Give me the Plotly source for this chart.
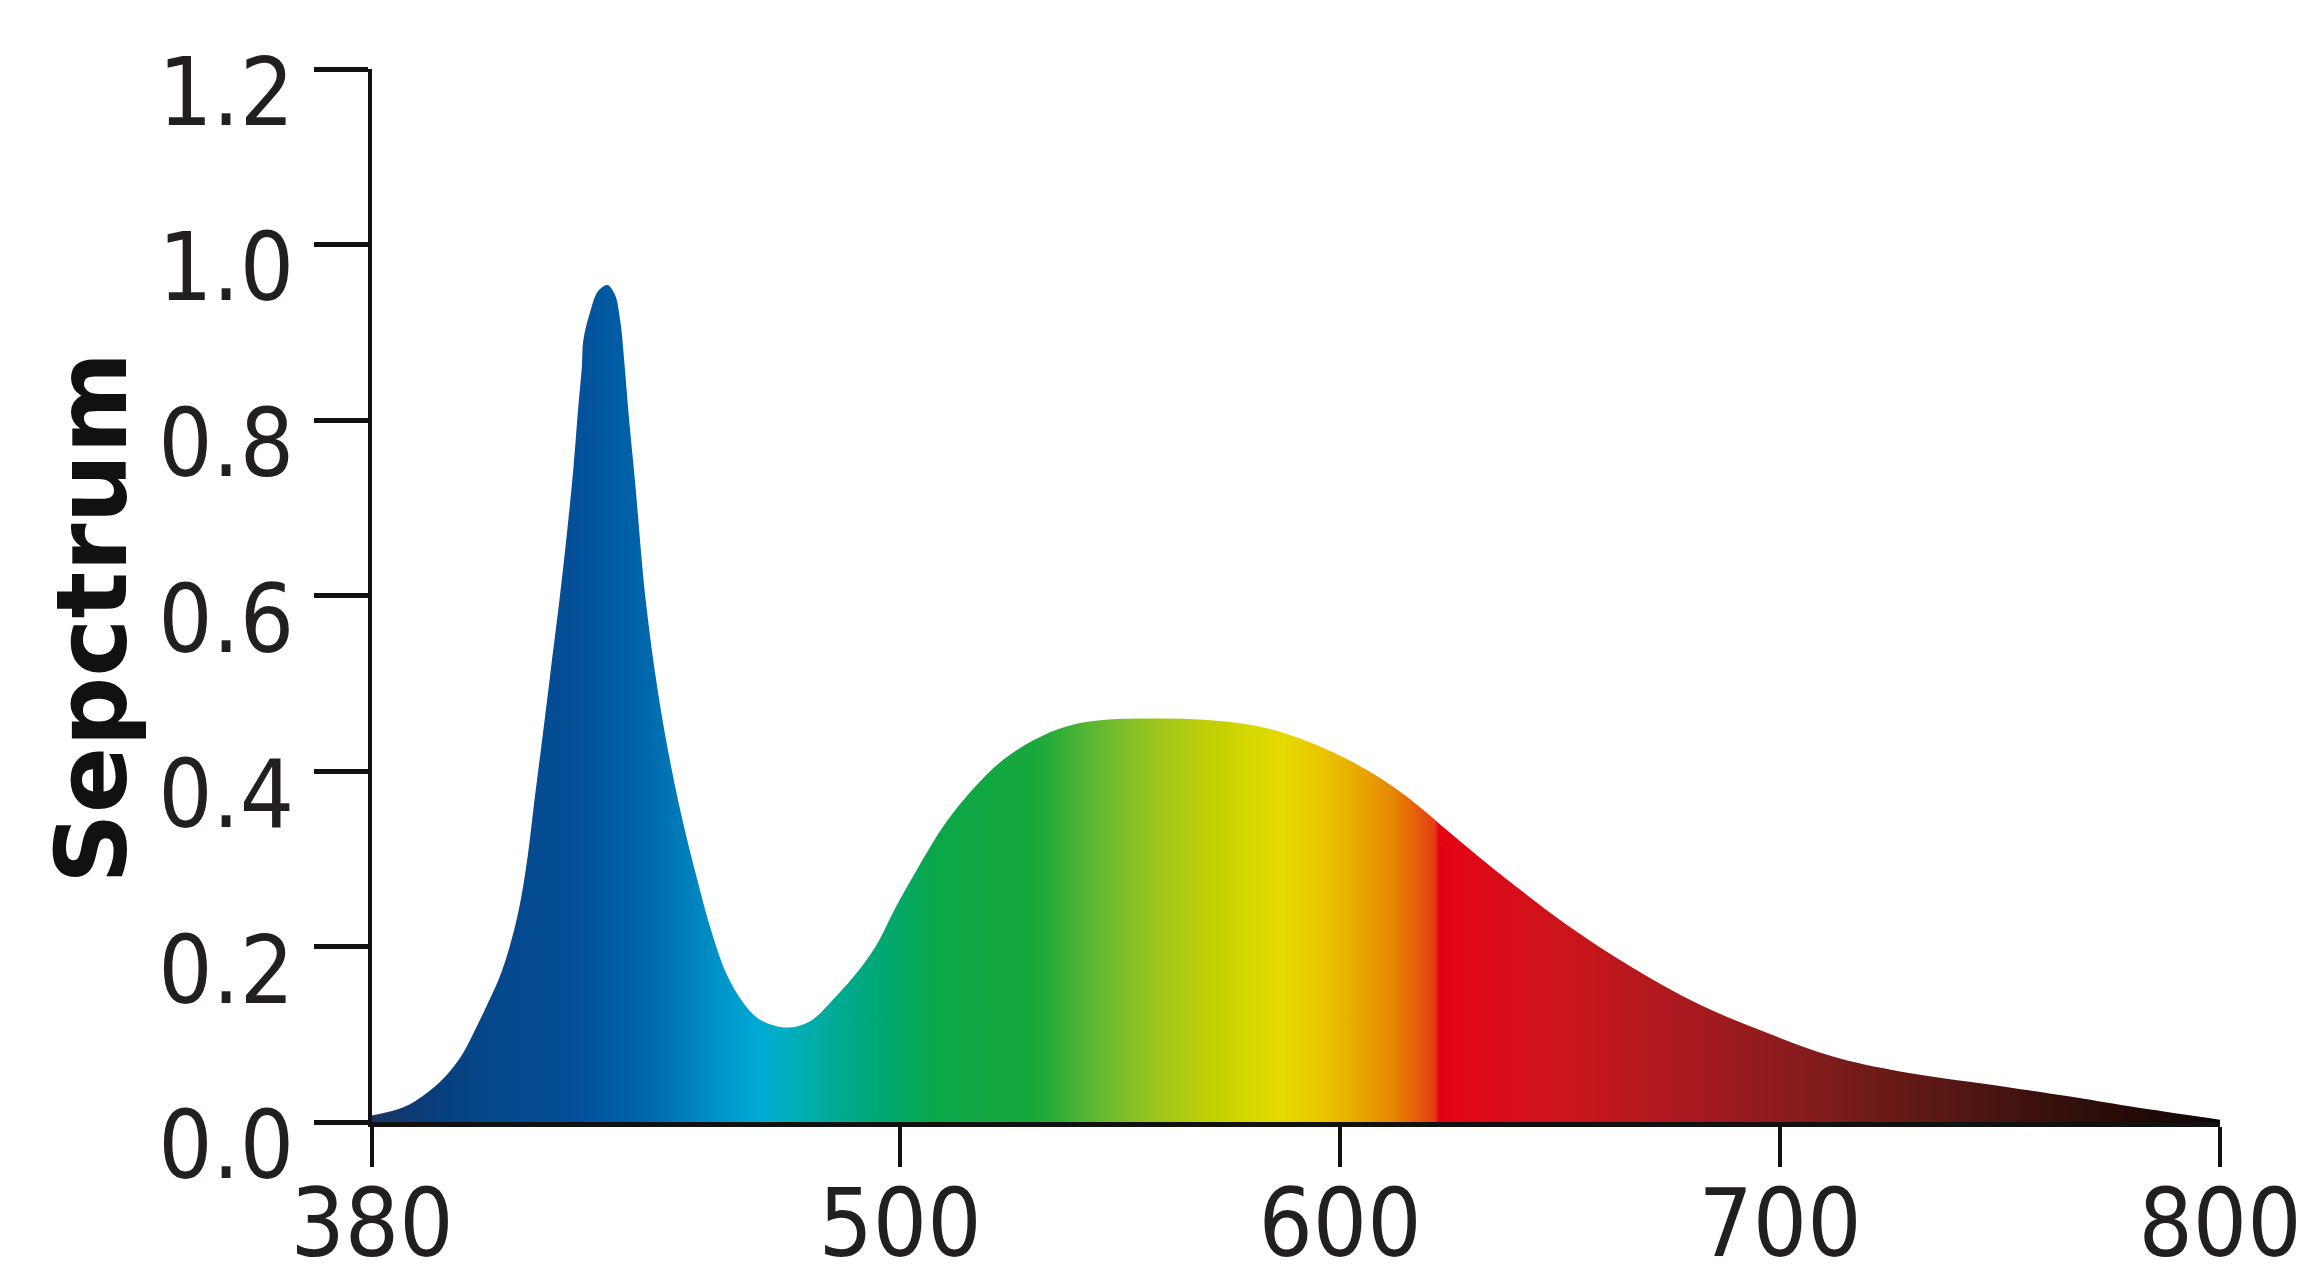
import plotly.graph_objects as go

# spectrum (nm, relative intensity)
wavelength = [380.0, 387.5, 395.2, 399.8, 402.7, 405.7, 408.8, 411.1, 413.4, 415.3,
              417.0, 418.9, 420.5, 422.6, 424.3, 425.8, 426.9, 427.7, 428.0, 429.5,
              431.4, 433.5, 435.2, 436.4, 437.3, 438.3, 439.8, 442.2, 445.0, 448.0,
              451.0, 454.0, 457.0, 460.5, 464.3, 468.2, 474.3, 479.5, 484.8, 490.9,
              495.0, 498.5, 503.5, 510.2, 517.0, 522.7, 530.2, 537.8, 545.5, 556.8,
              568.2, 579.5, 587.1, 594.7, 602.3, 609.8, 617.5, 625.0, 636.4, 651.6,
              666.6, 681.8, 697.0, 712.0, 727.3, 750.7, 765.2, 779.8, 800.0]
intensity = [0.008, 0.018, 0.045, 0.072, 0.098, 0.129, 0.163, 0.197, 0.243, 0.300,
             0.370, 0.445, 0.510, 0.595, 0.671, 0.747, 0.816, 0.861, 0.890, 0.922,
             0.947, 0.954, 0.943, 0.914, 0.869, 0.808, 0.729, 0.595, 0.490, 0.405,
             0.335, 0.275, 0.220, 0.170, 0.137, 0.117, 0.108, 0.115, 0.140, 0.175,
             0.205, 0.240, 0.285, 0.340, 0.382, 0.410, 0.435, 0.451, 0.458, 0.460,
             0.459, 0.453, 0.444, 0.430, 0.412, 0.390, 0.362, 0.330, 0.283, 0.225,
             0.176, 0.134, 0.102, 0.075, 0.058, 0.041, 0.030, 0.018, 0.003]

# colour stops of the rainbow fill
grad_nm = [380, 392, 405, 425, 440, 452, 462, 468, 476, 486, 497, 508, 530, 536,
           542, 550, 560, 570, 580, 587, 596, 605, 612, 618, 621.5, 622.5, 632, 650,
           670, 690, 710, 730, 750, 770, 790, 800]
grad_colors = ['#1b3563', '#0a3c78', '#044689', '#044f98', '#0062a8', '#0080bd',
               '#009ccd', '#00aad3', '#00aeb8', '#00ab92', '#00a86e', '#0aa748',
               '#17a83c', '#2fad38', '#52b534', '#7bbd2c', '#a2c71a', '#bfcf05',
               '#d6d800', '#e4da00', '#e9c500', '#e8a500', '#e68600', '#e55a0c',
               '#e43c18', '#e50012', '#dd0a18', '#cc141c', '#b4181e', '#9a1b1e',
               '#7e1c1c', '#621a16', '#461410', '#2e0e0a', '#1a0806', '#120404']

x_ticks = [380, 500, 600, 700, 800]
y_ticks = [0.0, 0.2, 0.4, 0.6, 0.8, 1.0, 1.2]

x_min, x_max = grad_nm[0], grad_nm[-1]
colorscale = [[(nm - x_min) / (x_max - x_min), c] for nm, c in zip(grad_nm, grad_colors)]

tick_font = dict(family="DejaVu Sans Condensed, Liberation Sans Narrow, sans-serif",
                 size=95, color="#231f20")
shift = 0.021  # labels of the y axis sit a little lower than their ticks

fig = go.Figure()
fig.add_trace(go.Scatter(
    x=wavelength, y=intensity,
    mode="lines",
    line=dict(width=0, shape="spline", smoothing=1.0),
    fill="tozeroy",
    fillgradient=dict(type="horizontal", colorscale=colorscale, start=x_min, stop=x_max),
    hoverinfo="skip", showlegend=False,
))
# carrier for the label-only y axis
fig.add_trace(go.Scatter(
    x=wavelength[:1], y=intensity[:1], yaxis="y2",
    mode="markers", marker=dict(opacity=0),
    hoverinfo="skip", showlegend=False,
))

# page body adds an 8px margin, so the figure is shifted by 8px
fig.update_layout(
    width=2308, height=1264,
    margin=dict(l=364, r=96, t=61, b=127, autoexpand=False),
    paper_bgcolor="white", plot_bgcolor="rgba(0,0,0,0)",
    showlegend=False,
    xaxis=dict(range=[x_min, x_max], tickvals=x_ticks, showgrid=False, zeroline=False,
               showline=True, linewidth=5, linecolor="#111111",
               ticks="outside", ticklen=40, tickwidth=4, tickcolor="#111111",
               tickfont=tick_font, ticklabelstandoff=-25, anchor="y", automargin=False),
    yaxis=dict(domain=[shift, 1], range=[0, 1.2], tickvals=y_ticks, showgrid=False,
               zeroline=False, showline=True, linewidth=4, linecolor="#111111",
               ticks="outside", ticklen=54, tickwidth=5, tickcolor="#111111",
               showticklabels=False, automargin=False),
    yaxis2=dict(domain=[0, 1 - shift], range=[0, 1.2], tickvals=y_ticks, tickformat=".1f",
                showgrid=False, zeroline=False, showline=False, anchor="x",
                ticks="outside", ticklen=54, tickcolor="rgba(0,0,0,0)",
                tickfont=tick_font, ticklabelstandoff=4, automargin=False),
    annotations=[dict(text="Sepctrum", textangle=-90, showarrow=False,
                      xref="paper", yref="paper", x=-0.1512, y=0.4895,
                      xanchor="center", yanchor="middle",
                      font=dict(family="DejaVu Sans, Verdana, sans-serif",
                                size=98, color="#111111", weight="bold"))],
)

fig.write_html("out.html")
